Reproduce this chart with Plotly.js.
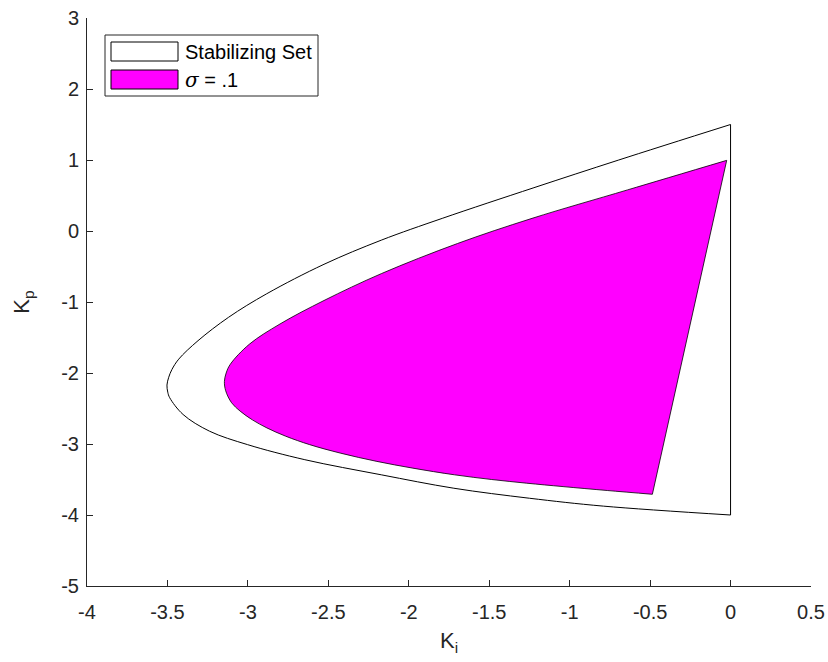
<!DOCTYPE html>
<html>
<head>
<meta charset="utf-8">
<script src="https://cdn.plot.ly/plotly-3.0.1.min.js"></script>
<style>
html,body{margin:0;padding:0;background:#fff;}
#chart{width:828px;height:662px;}
</style>
</head>
<body>
<div id="chart"></div>
<script>
// Stabilizing set curved boundary (Ki, Kp), from top corner to bottom corner
const outerKi = [0, -0.695, -1.222, -1.792, -2.171, -2.527, -2.883, -3.12, -3.31, -3.43, -3.472, -3.492, -3.503,
  -3.498, -3.486, -3.403, -3.238, -3.002, -2.646, -2.171, -1.72, -1.25, -0.79, 0];
const outerKp = [1.5, 1.0, 0.61, 0.178, -0.129, -0.469, -0.884, -1.215, -1.545, -1.805, -1.95, -2.06, -2.17,
  -2.27, -2.348, -2.584, -2.82, -3.009, -3.221, -3.434, -3.623, -3.764, -3.875, -4.0];

// sigma = .1 region curved boundary (Ki, Kp), from top corner to bottom corner
const innerKi = [-0.024, -0.64, -1.234, -1.697, -2.171, -2.527, -2.80, -2.99, -3.109, -3.135, -3.146,
  -3.138, -3.101, -3.048, -2.972, -2.882, -2.765, -2.616, -2.422, -2.198, -1.975, -1.716, -1.485, -1.267, -1.041, -0.766, -0.486];
const innerKp = [0.995, 0.579, 0.178, -0.176, -0.601, -0.979, -1.309, -1.593, -1.876, -2.0, -2.12,
  -2.25, -2.42, -2.537, -2.66, -2.773, -2.89, -3.009, -3.13, -3.245, -3.34, -3.434, -3.50, -3.552, -3.60, -3.655, -3.708];

const xTickVals = [-4, -3.5, -3, -2.5, -2, -1.5, -1, -0.5, 0, 0.5];
const xTickText = ['-4', '-3.5', '-3', '-2.5', '-2', '-1.5', '-1', '-0.5', '0', '0.5'];
const yTickVals = [-5, -4, -3, -2, -1, 0, 1, 2, 3];
const yTickText = ['-5', '-4', '-3', '-2', '-1', '0', '1', '2', '3'];
const legendNames = ['Stabilizing Set', '<span style="font-family:\'DejaVu Serif\',\'Liberation Serif\',serif"><i>σ</i></span> = .1'];

const axisColor = '#262626';
const font = 'Liberation Sans, Arial, Helvetica, sans-serif';

function lastOf(a){ return a[a.length - 1]; }

const traces = [
  {x: outerKi, y: outerKp, type: 'scatter', mode: 'lines', fill: 'toself', fillcolor: '#ffffff',
   line: {color: '#000000', width: 1, shape: 'spline', smoothing: 1}, name: 'Stabilizing Set', showlegend: false, hoverinfo: 'skip'},
  {x: [lastOf(outerKi), outerKi[0]], y: [lastOf(outerKp), outerKp[0]], type: 'scatter', mode: 'lines',
   line: {color: '#000000', width: 1}, showlegend: false, hoverinfo: 'skip'},
  {x: innerKi, y: innerKp, type: 'scatter', mode: 'lines', fill: 'toself', fillcolor: '#ff00ff',
   line: {color: '#000000', width: 0.8, shape: 'spline', smoothing: 1}, name: 'σ = .1', showlegend: false, hoverinfo: 'skip'},
  {x: [lastOf(innerKi), innerKi[0]], y: [lastOf(innerKp), innerKp[0]], type: 'scatter', mode: 'lines',
   line: {color: '#000000', width: 0.8}, showlegend: false, hoverinfo: 'skip'}
];

function px2x(p){ return (p - 87) / 724; }
function py2y(p){ return (586 - p) / 568; }

const layout = {
  width: 828, height: 662,
  margin: {l: 87, r: 17, t: 18, b: 76, pad: 0},
  paper_bgcolor: '#ffffff', plot_bgcolor: '#ffffff',
  font: {family: font, size: 20, color: axisColor},
  showlegend: false,
  xaxis: {
    range: [-4, 0.5], tickmode: 'array', tickvals: xTickVals, ticktext: xTickText,
    ticks: 'inside', ticklen: 6, tickwidth: 1, tickcolor: axisColor, ticklabelstandoff: 8,
    showline: true, linecolor: axisColor, linewidth: 1, mirror: false,
    showgrid: false, zeroline: false, tickfont: {size: 20, color: axisColor},
    title: {text: 'K<sub>i</sub>', font: {size: 22, color: axisColor}, standoff: 10},
    fixedrange: true
  },
  yaxis: {
    range: [-5, 3], tickmode: 'array', tickvals: yTickVals, ticktext: yTickText,
    ticks: 'inside', ticklen: 6, tickwidth: 1, tickcolor: axisColor, ticklabelstandoff: 3,
    showline: true, linecolor: axisColor, linewidth: 1, mirror: false,
    showgrid: false, zeroline: false, tickfont: {size: 20, color: axisColor},
    title: {text: 'K<sub>p</sub>', font: {size: 22, color: axisColor}, standoff: 25},
    fixedrange: true
  },
  shapes: [
    {type: 'rect', xref: 'paper', yref: 'paper', x0: px2x(105), x1: px2x(318), y0: py2y(96), y1: py2y(35),
     line: {color: axisColor, width: 1}, fillcolor: '#ffffff', layer: 'above'},
    {type: 'rect', xref: 'paper', yref: 'paper', x0: px2x(111), x1: px2x(178), y0: py2y(61), y1: py2y(42),
     line: {color: '#000000', width: 1}, fillcolor: '#ffffff', layer: 'above'},
    {type: 'rect', xref: 'paper', yref: 'paper', x0: px2x(111), x1: px2x(178), y0: py2y(89), y1: py2y(70),
     line: {color: '#000000', width: 1}, fillcolor: '#ff00ff', layer: 'above'}
  ],
  annotations: [
    {xref: 'paper', yref: 'paper', x: px2x(183), y: py2y(52), xanchor: 'left', yanchor: 'middle',
     text: legendNames[0], showarrow: false, font: {size: 20, color: '#000000'}},
    {xref: 'paper', yref: 'paper', x: px2x(183), y: py2y(80), xanchor: 'left', yanchor: 'middle',
     text: legendNames[1], showarrow: false, font: {size: 20, color: '#000000'}}
  ]
};

Plotly.newPlot('chart', traces, layout, {displayModeBar: false, staticPlot: true});
</script>
</body>
</html>
